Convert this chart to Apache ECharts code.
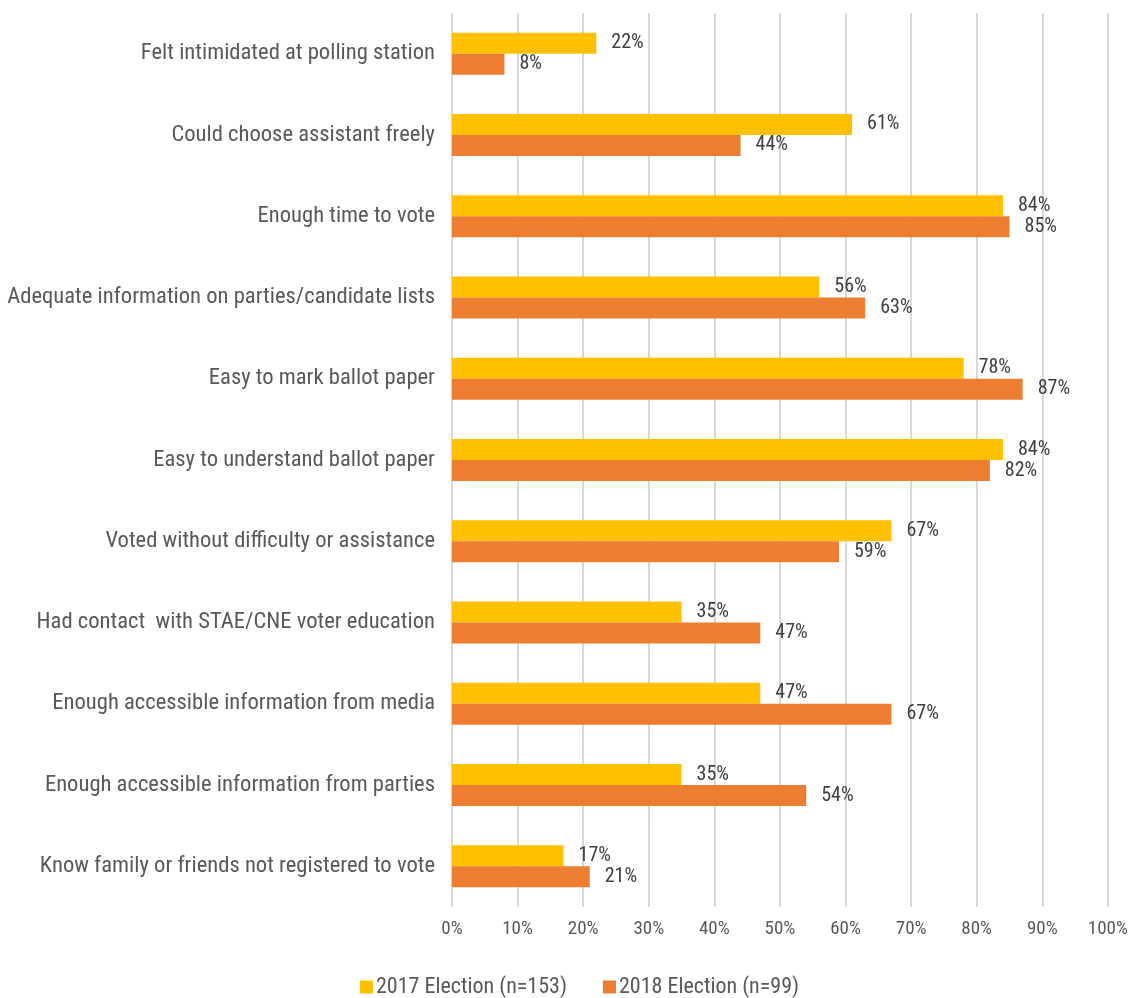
<!DOCTYPE html>
<html>
<head>
<meta charset="utf-8">
<script src="https://cdn.jsdelivr.net/npm/echarts@6/dist/echarts.min.js"></script>
<style>
  html, body { margin: 0; padding: 0; background: #fff; }
  #chart { width: 1131px; height: 998px; }
</style>
</head>
<body>
<div id="chart"></div>
<script>
// Survey items, listed top to bottom
const categories = [
  'Felt intimidated at polling station',
  'Could choose assistant freely',
  'Enough time to vote',
  'Adequate information on parties/candidate lists',
  'Easy to mark ballot paper',
  'Easy to understand ballot paper',
  'Voted without difficulty or assistance',
  'Had contact  with STAE/CNE voter education',
  'Enough accessible information from media',
  'Enough accessible information from parties',
  'Know family or friends not registered to vote'
];
const seriesNames = ['2017 Election (n=153)', '2018 Election (n=99)'];
const values2017 = [22, 61, 84, 56, 78, 84, 67, 35, 47, 35, 17];
const values2018 = [8, 44, 85, 63, 87, 82, 59, 47, 67, 54, 21];

const FONT = '"Roboto Condensed", "Liberation Sans Narrow", "DejaVu Sans Condensed", Roboto, sans-serif';

const chart = echarts.init(document.getElementById('chart'));

function barSeries(name, data, color) {
  return {
    name: name,
    type: 'bar',
    data: data,
    barWidth: 21,
    barGap: '0%',
    itemStyle: { color: color },
    label: {
      show: true,
      position: 'right',
      distance: 15,
      formatter: '{c}%',
      color: '#404040',
      fontFamily: FONT,
      fontSize: 20
    }
  };
}

chart.setOption({
  backgroundColor: '#ffffff',
  animation: false,
  textStyle: { fontFamily: FONT },
  grid: { left: 452, right: 19, top: 13, height: 894 },
  legend: {
    top: 976,
    left: 360,
    padding: 0,
    itemWidth: 13,
    itemHeight: 13,
    itemGap: 36,
    icon: 'rect',
    textStyle: { color: '#595959', fontSize: 22, fontFamily: FONT, padding: [0, 0, 0, -2] },
    data: seriesNames
  },
  xAxis: {
    type: 'value',
    min: 0,
    max: 100,
    interval: 10,
    axisLine: { show: false },
    axisTick: { show: false },
    axisLabel: {
      formatter: '{value}%',
      color: '#595959',
      fontSize: 19,
      fontFamily: FONT,
      margin: 13
    },
    splitLine: { lineStyle: { color: '#d9d9d9', width: 2 } }
  },
  yAxis: {
    type: 'category',
    inverse: true,
    data: categories,
    axisLine: { show: false },
    axisTick: { show: false },
    axisLabel: {
      color: '#595959',
      fontSize: 22.6,
      fontFamily: FONT,
      margin: 17
    }
  },
  series: [
    barSeries(seriesNames[0], values2017, '#ffc000'),
    barSeries(seriesNames[1], values2018, '#ed7d31')
  ]
});
</script>
</body>
</html>
